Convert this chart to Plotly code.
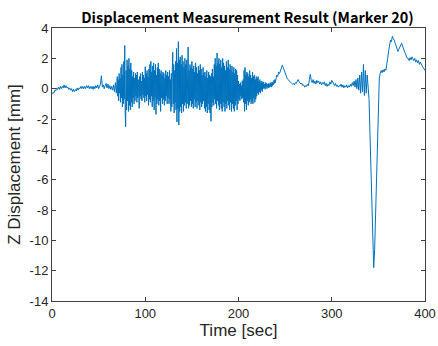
import numpy as np
import plotly.graph_objects as go

# ---- data ----
# 0..69 s, one sample per second
t_quiet = list(range(0, 70))
z_quiet = [-0.35, -0.25, -0.3, -0.1, -0.15, 0.05, -0.05, 0.1, -0.05, 0.15,
           0.0, 0.15, 0.05, 0.25, 0.05, 0.2, 0.05, 0.1, -0.05, 0.05,
           -0.1, 0.0, -0.2, -0.05, -0.2, -0.05, -0.15, 0.05, -0.1, 0.05,
           0.0, 0.15, 0.0, 0.15, 0.0, 0.15, 0.0, 0.2, 0.05, 0.2,
           0.0, 0.15, 0.0, 0.15, -0.05, 0.15, 0.0, 0.2, 0.05, 0.25,
           0.0, 0.15, 0.3, 0.85, 0.1, 0.25, 0.0, 0.2, 0.35, 0.05,
           0.3, 0.0, 0.2, -0.05, 0.15, -0.1, 0.25, -0.2, 0.4, -0.3]

# 70..240 s, two samples per second (vibration phase)
t_noisy = list(np.arange(70.0, 240.5, 0.5))
z_noisy = [0.8, -0.5, 0.6, -0.8, 1.0, -0.3, 0.7, -0.9, 1.4, -0.6,
           1.6, -1.2, 0.9, -1.0, 1.8, -0.7, 2.85, -1.6, -2.5, 1.2,
           -1.4, 1.9, -0.8, 1.5, -1.5, 2.0, -1.1, 1.3, -1.4, 1.7,
           -0.9, 1.2, -1.2, 0.8, -0.6, 1.1, -1.0, 0.7, -0.8, 1.0,
           -0.5, 0.9, -0.9, 1.1, -0.6, 0.6, -1.0, -1.3, 0.8, -0.5,
           1.0, -0.7, 0.5, -0.8, 1.1, -0.4, 0.9, -0.6, 0.7, -0.9,
           1.45, -0.5, 1.0, -0.8, 1.2, -0.4, 0.8, -1.1, 1.3, -0.7,
           1.6, -0.9, 1.8, -0.5, 1.1, -1.2, 1.5, -0.8, 1.7, -1.4,
           1.2, -0.6, 1.6, -1.7, 0.9, -1.0, 1.4, -0.7, 1.7, -1.1,
           1.3, -0.8, 1.0, -1.5, 1.2, -0.6, 0.9, -1.0, 1.1, -0.7,
           1.0, -1.1, 0.7, -0.8, 1.2, -0.5, 0.9, -1.0, 1.1, -0.6,
           0.8, -1.0, 1.2, -0.7, 0.6, -1.5, 1.0, -1.2, 1.3, 2.4,
           -1.0, 1.6, -1.6, 1.2, -0.9, 1.8, -1.4, 2.65, -2.2, 1.7,
           -1.3, 3.1, -2.4, 1.9, -1.5, 2.1, -1.2, 1.6, -1.6, 2.2,
           -1.0, 1.8, -1.5, 1.4, -1.1, 2.0, -0.9, 1.6, -1.3, 1.9,
           -1.0, 1.5, 2.75, -1.3, 1.2, -1.1, 1.6, -0.8, 1.4, -1.2,
           1.8, -1.0, 1.3, -1.3, 1.5, -0.7, 1.1, -1.2, 1.7, -0.9,
           1.4, -1.3, 1.0, -0.8, 1.5, -1.1, 1.2, -1.4, 1.6, -0.9,
           1.3, -1.2, 0.9, -1.0, 1.4, -0.8, 1.0, -1.3, 1.1, -1.5,
           0.8, -1.2, 1.2, -1.6, 0.7, -1.0, 1.1, -1.4, 0.9, -1.6,
           0.8, -2.15, 1.0, -1.2, 1.3, -0.9, 0.8, -1.1, 1.6, -0.7,
           2.0, -1.0, 1.5, -1.3, 2.35, -0.8, 1.7, -1.1, 2.0, -1.4,
           1.6, -1.0, 1.9, -1.3, 1.4, -1.5, 2.0, -0.9, 1.7, -1.2,
           1.5, -1.5, 1.2, -1.0, 1.8, -1.3, 1.4, -0.8, 1.9, -1.1,
           1.3, -1.4, 1.6, -0.9, 1.2, -1.5, 1.5, -1.0, 1.1, -1.3,
           1.4, -1.5, 1.0, -1.1, 1.3, -0.8, 1.2, -1.4, 0.9, -1.0,
           0.5, -0.7, 0.3, -0.8, 0.4, -0.5, 0.2, -0.7, 0.5, -0.6,
           0.6, -0.9, 1.2, -1.5, 1.4, -1.0, 0.9, -1.4, 1.1, -0.8,
           1.0, -1.1, 0.8, -0.9, 1.2, -0.7, 0.9, -1.0, 0.7, -0.8,
           1.1, -1.0, 0.8, -0.6, 0.9, -0.9, 0.6, -0.7, 0.8, -0.5,
           0.7, -0.3, 0.8, -0.4, 0.5, -0.2, 0.6, -0.3, 0.4, -0.1,
           0.5, -0.2, 0.4, 0.0, 0.45, 0.05, 0.3, -0.05, 0.4, 0.1,
           0.35, 0.0, 0.3, 0.1, 0.35, 0.05, 0.3, 0.1, 0.4, 0.15,
           0.35, 0.1, 0.45, 0.2, 0.4, 0.25, 0.55, 0.35, 0.6, 0.4,
           0.7]

# 241..339 s, one sample per second
t_calm = list(range(241, 340))
z_calm = [0.9, 0.8, 1.1, 1.0, 1.25, 1.35, 1.55, 1.4, 1.2, 0.95,
          0.85, 0.7, 0.6, 0.55, 0.45, 0.4, 0.35, 0.3, 0.35, 0.25,
          0.4, 0.35, 0.5, 0.6, 0.45, 0.4, 0.3, 0.35, 0.2, 0.25,
          0.1, 0.2, 0.15, 0.3, 0.2, 0.6, 0.95, 0.55, 0.4, 0.6,
          0.35, 0.5, 0.3, 0.55, 0.4, 0.5, 0.3, 0.45, 0.25, 0.4,
          0.3, 0.45, 0.2, 0.35, 0.15, 0.3, 0.2, 0.45, 0.3, 0.55,
          0.4, 0.3, 0.2, 0.35, 0.15, 0.25, 0.1, 0.2, 0.15, 0.3,
          0.1, 0.25, 0.05, 0.2, 0.1, 0.25, 0.05, 0.2, 0.1, 0.3,
          0.15, 0.4, 0.2, 0.5, 0.1, 0.6, 0.0, 0.7, -0.1, 0.9,
          -0.3, 1.1, -0.2, 1.6, -0.45, 1.2, -0.3, 0.9, 0.2]

# 340..400 s, one sample per second (sudden drop and recovery)
t_drop = list(range(340, 401))
z_drop = [-0.7, -3.0, -5.5, -8.0, -10.3, -11.8, -10.6, -8.2, -5.6, -3.0,
          -0.7, 0.7, 1.0, 1.2, 1.05, 1.25, 1.1, 1.3, 1.2, 1.5,
          2.0, 2.5, 2.9, 3.2, 3.1, 3.45, 3.3, 3.2, 3.0, 2.8,
          2.6, 2.45, 2.6, 2.75, 2.9, 3.0, 2.8, 2.6, 2.35, 2.3,
          2.15, 2.0, 2.0, 1.85, 2.05, 1.9, 2.1, 2.0, 1.85, 2.0,
          1.75, 1.9, 1.7, 1.85, 1.6, 1.75, 1.55, 1.5, 1.4, 1.3,
          1.2]

time_sec = t_quiet + t_noisy + t_calm + t_drop
z_disp_mm = z_quiet + z_noisy + z_calm + z_drop

x_ticks = [0, 100, 200, 300, 400]
x_tick_labels = ["0", "100", "200", "300", "400"]
y_ticks = [-14, -12, -10, -8, -6, -4, -2, 0, 2, 4]
y_tick_labels = ["-14", "-12", "-10", "-8", "-6", "-4", "-2", "0", "2", "4"]

fig = go.Figure()
fig.add_trace(go.Scatter(x=time_sec, y=z_disp_mm, mode="lines",
                         line=dict(color="#0072BD", width=1), showlegend=False))

axis_color = "#404040"
sans = "Liberation Sans, Arial, sans-serif"
tick_font = dict(family=sans, size=13, color="#262626")
label_font = dict(family=sans, size=17, color="#262626")

fig.update_layout(
    width=438, height=346,
    margin=dict(l=52, r=13, t=28, b=45, autoexpand=False),
    paper_bgcolor="white", plot_bgcolor="white",
    title=dict(text="<b>Displacement Measurement Result (Marker 20)</b>",
               x=247.5 / 438, xref="container", y=1 - 18 / 346, yref="container",
               xanchor="center", yanchor="middle",
               font=dict(family="Noto Sans CJK KR, Noto Sans, sans-serif", size=14.5, color="#000000")),
    xaxis=dict(range=[0, 400], tickvals=x_ticks, ticktext=x_tick_labels,
               ticks="inside", ticklen=4, tickcolor=axis_color, showline=True,
               linecolor=axis_color, linewidth=1, mirror="ticks", showgrid=False,
               zeroline=False, tickfont=tick_font, automargin=False,
               title=dict(text="Time [sec]", standoff=4, font=label_font)),
    yaxis=dict(range=[-14, 4], tickvals=y_ticks, ticktext=y_tick_labels,
               ticks="inside", ticklen=4, tickcolor=axis_color, showline=True,
               linecolor=axis_color, linewidth=1, mirror="ticks", showgrid=False,
               zeroline=False, tickfont=tick_font, automargin=False,
               title=dict(text="Z Displacement [mm]", standoff=4, font=label_font)),
)

fig.write_html("out.html", config={"displayModeBar": False},
               post_script="document.body.style.margin='0';")
